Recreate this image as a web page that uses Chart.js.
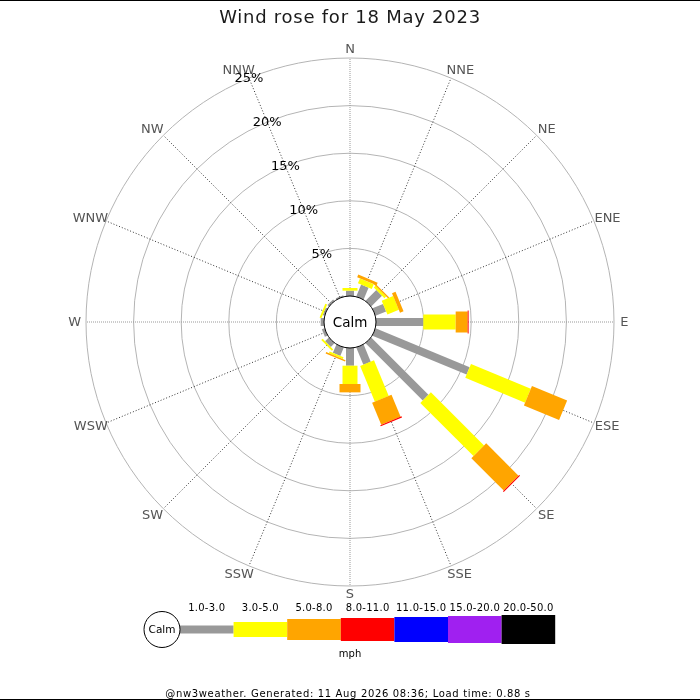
<!DOCTYPE html>
<html>
<head>
<meta charset="utf-8">
<title>Wind rose for 18 May 2023</title>
<script src="https://cdn.jsdelivr.net/npm/chart.js@4.4.0/dist/chart.umd.min.js"></script>
<style>
    html, body { margin: 0; padding: 0; background: #fff; }
    #wrap { width: 700px; height: 700px; position: relative; }
</style>
</head>
<body>
<div id="wrap"><canvas id="rose"></canvas></div>
<script>
// ============================================================
//  Wind rose — 18 May 2023 (nw3weather)
// ============================================================

// ── Data ─────────────────────────────────────────────────────
// compass points, clockwise from north
const directions = ['N', 'NNE', 'NE', 'ENE', 'E', 'ESE', 'SE', 'SSE',
                    'S', 'SSW', 'SW', 'WSW', 'W', 'WNW', 'NW', 'NNW'];

// speed bands (mph)
const speedBands = ['1.0-3.0', '3.0-5.0', '5.0-8.0', '8.0-11.0', '11.0-15.0', '15.0-20.0', '20.0-50.0'];

// % of readings per direction, one array per speed band
const band1to3   = [0.56, 1.35, 1.6, 1.2, 4.97, 10.7, 8.5, 1.95, 1.86, 0.95, 0.55, 0.3, 0.35, 0.2, 0.2, 0.15];
const band3to5   = [0.28, 0.55, 0.25, 1.3, 3.4, 6.8, 7.9, 4.05, 1.92, 0.2, 0.2, 0, 0, 0.2, 0, 0];
const band5to8   = [0, 0.3, 0.15, 0.4, 1.26, 4.0, 4.8, 2.5, 0.88, 0.15, 0, 0, 0, 0, 0, 0];
const band8to11  = [0, 0, 0, 0, 0.1, 0, 0.12, 0.12, 0, 0, 0, 0, 0, 0, 0, 0];
const band11to15 = [0, 0, 0, 0, 0, 0, 0, 0, 0, 0, 0, 0, 0, 0, 0, 0];
const band15to20 = [0, 0, 0, 0, 0, 0, 0, 0, 0, 0, 0, 0, 0, 0, 0, 0];
const band20to50 = [0, 0, 0, 0, 0, 0, 0, 0, 0, 0, 0, 0, 0, 0, 0, 0];

// ring tick labels (%)
const ringTicks = [5, 10, 15, 20, 25];

// ── Style ────────────────────────────────────────────────────
const FONT = 'DejaVu Sans';
const bandColours = ['#999999', '#ffff00', '#ffa500', '#ff0000', '#0000ff', '#a020f0', '#000000'];
const bandWidths  = [8, 15, 21, 23, 25, 27, 29];
const R_MIN = -2.73;   // pushes 0% out to the edge of the calm circle

const bandSeries = [band1to3, band3to5, band5to8, band8to11, band11to15, band15to20, band20to50];

function txt(ctx, s, x, y, font, colour, align, base, spacing) {
    ctx.font = font;
    ctx.fillStyle = colour;
    ctx.textAlign = align || 'center';
    ctx.textBaseline = base || 'middle';
    ctx.letterSpacing = spacing || '0px';
    ctx.fillText(s, x, y);
    ctx.letterSpacing = '0px';
}

// ── Rose decorations: bars, calm circle, labels, legend ──────
const roseDecor = {
    id: 'roseDecor',
    afterDatasetsDraw(chart) {
        const r = chart.scales.r;
        const ctx = chart.ctx;
        ctx.save();

        // stacked radial bars
        ctx.lineCap = 'butt';
        ctx.setLineDash([]);
        chart.data.labels.forEach((lab, i) => {
            let base = 0;
            chart.data.datasets.forEach((ds, b) => {
                const v = ds.data[i];
                if (!v) return;
                const p0 = r.getPointPositionForValue(i, base);
                const p1 = r.getPointPositionForValue(i, base + v);
                ctx.strokeStyle = ds.borderColor;
                ctx.lineWidth = bandWidths[b];
                ctx.beginPath();
                ctx.moveTo(p0.x, p0.y);
                ctx.lineTo(p1.x, p1.y);
                ctx.stroke();
                base += v;
            });
        });

        // calm circle
        const calmR = r.getDistanceFromCenterForValue(0);
        ctx.beginPath();
        ctx.arc(r.xCenter, r.yCenter, calmR, 0, Math.PI * 2);
        ctx.fillStyle = '#fff';
        ctx.fill();
        ctx.lineWidth = 1;
        ctx.strokeStyle = '#000';
        ctx.stroke();
        txt(ctx, 'Calm', r.xCenter, r.yCenter + 1, '13.5px ' + FONT, '#000');

        // compass labels: just past the rim, nudged sideways by part of their width
        ctx.font = '13px ' + FONT;
        chart.data.labels.forEach((lab, i) => {
            const p = r.getPointPosition(i, r.drawingArea + 8.5);
            const dx = p.x - r.xCenter;
            const w = ctx.measureText(lab).width;
            const shift = Math.abs(dx) < 1 ? 0 : Math.sign(dx) * w * 0.22;
            txt(ctx, lab, p.x + shift, p.y + 0.5, '13px ' + FONT, '#555');
        });

        // ring labels along NNW spoke
        ringTicks.forEach(v => {
            const p = r.getPointPositionForValue(15, v);
            txt(ctx, v + '%', p.x, p.y + 1, '13px ' + FONT, '#000');
        });

        // title
        txt(ctx, 'Wind rose for 18 May 2023', 350, 23, '18px ' + FONT, '#1a1a1a', 'center', 'alphabetic', '0.75px');

        // legend
        const ly = 629.5, segW = 53.6, cx = 162, cr = 18;
        let x = cx + cr;
        speedBands.forEach((lab, b) => {
            ctx.fillStyle = bandColours[b];
            ctx.fillRect(x, ly - bandWidths[b] / 2, segW, bandWidths[b]);
            txt(ctx, lab, x + segW / 2, 611, '10px ' + FONT, '#000', 'center', 'alphabetic', '0.25px');
            x += segW;
        });
        ctx.beginPath();
        ctx.arc(cx, ly, cr, 0, Math.PI * 2);
        ctx.fillStyle = '#fff';
        ctx.fill();
        ctx.lineWidth = 1;
        ctx.strokeStyle = '#000';
        ctx.stroke();
        txt(ctx, 'Calm', cx, ly + 1, '10.5px ' + FONT, '#000');
        txt(ctx, 'mph', 350, 657, '10px ' + FONT, '#000', 'center', 'alphabetic');

        // footer
        txt(ctx, '@nw3weather. Generated: 11 Aug 2026 08:36; Load time: 0.88 s', 348, 697,
            '10px ' + FONT, '#000', 'center', 'alphabetic', '0.65px');

        // frame lines
        ctx.fillStyle = '#000';
        ctx.fillRect(0, 0, chart.width, 1);
        ctx.fillRect(0, chart.height - 1, chart.width, 1);

        ctx.restore();
    }
};

Chart.defaults.font.family = FONT;

new Chart(document.getElementById('rose'), {
    type: 'radar',
    data: {
        labels: directions,
        datasets: speedBands.map((lab, b) => ({
            label: lab,
            data: bandSeries[b],
            borderColor: bandColours[b],
            backgroundColor: bandColours[b],
            showLine: false,
            fill: false,
            borderWidth: 0,
            pointRadius: 0,
            pointHoverRadius: 0
        }))
    },
    options: {
        responsive: true,
        maintainAspectRatio: false,
        animation: false,
        events: [],
        layout: { padding: { top: 58, bottom: 114, left: 0, right: 0 } },
        plugins: {
            legend: { display: false },
            title: { display: false },
            tooltip: { enabled: false }
        },
        scales: {
            r: {
                min: R_MIN,
                max: 25,
                startAngle: 0,
                ticks: { display: false },
                afterBuildTicks: axis => {
                    axis.ticks = [R_MIN, ...ringTicks].map(v => ({ value: v }));
                },
                grid: { circular: true, color: '#b4b4b4', lineWidth: 1 },
                angleLines: {
                    display: true,
                    lineWidth: 1,
                    color: c => (c.index % 4 === 0 ? '#999' : '#333'),
                    borderDash: c => (c.index % 4 === 0 ? [1, 1] : [1, 2])
                },
                pointLabels: { display: false }
            }
        }
    },
    plugins: [roseDecor]
});
</script>
</body>
</html>
